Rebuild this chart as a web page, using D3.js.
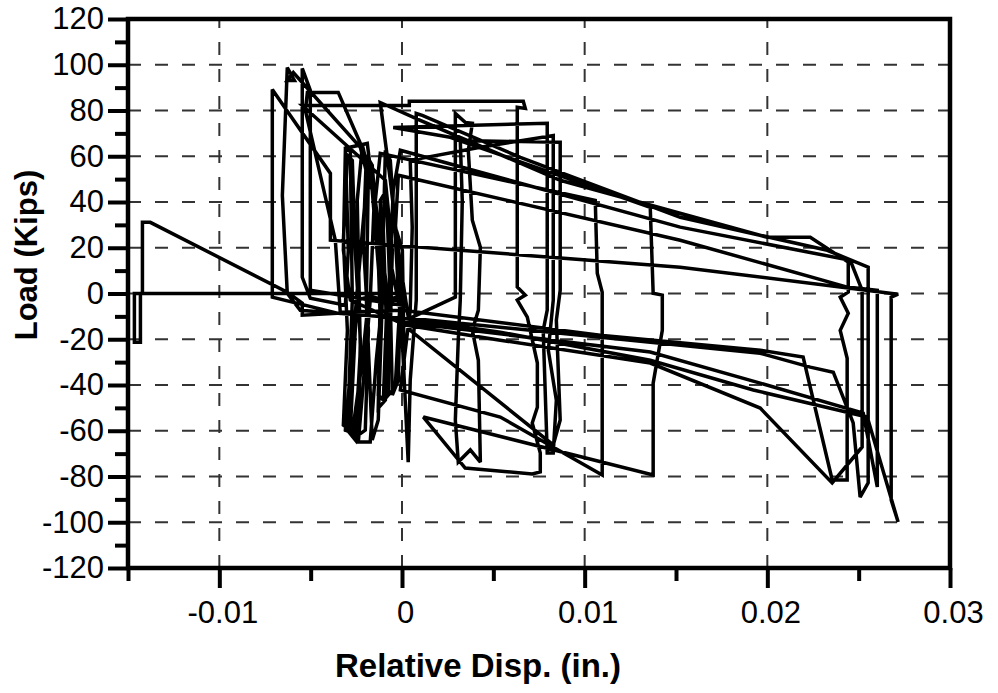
<!DOCTYPE html>
<html>
<head>
<meta charset="utf-8">
<script src="https://cdn.jsdelivr.net/npm/d3@7/dist/d3.min.js"></script>
<style>
  html, body { margin: 0; padding: 0; background: #fff; }
  svg { display: block; font-family: "Liberation Sans", Arial, sans-serif; }
</style>
</head>
<body>
<svg id="chart" width="998" height="693"></svg>
<script>
// Relative displacement (in.) of the recorded load path, in drawing order
const disp = [
  0.0000,-0.01465,-0.01465,-0.01432,-0.01432,-0.01421,-0.01421,-0.01378,-0.00628,-0.00546,
  -0.00546,-0.00354,-0.0071,-0.0071,-0.00392,-0.00392,0.00319,0.01523,0.02716,0.02678,
  0.02678,0.02716,0.02547,0.01923,0.01359,0.00538,0.00002,-0.00557,-0.00628,-0.00655,
  -0.00628,-0.00589,-0.00628,-0.00595,-0.00228,-0.0019,-0.00245,-0.0031,-0.00272,-0.00217,
  -0.00184,0.00002,-0.00502,-0.00502,-0.00546,-0.00546,-0.00502,-0.0031,-0.00294,-0.0031,
  -0.0019,-0.00152,-0.00174,-0.00239,-0.00174,-0.00141,-0.00108,-0.00009,-0.0002,-0.00064,
  -0.00119,0.001,0.00866,0.01999,0.02235,0.02443,0.02443,0.02399,0.02443,0.02399,
  0.02437,0.02437,0.02355,0.02196,0.01961,0.01085,0.00002,-0.00338,-0.00365,-0.00529,
  -0.00518,-0.00349,-0.00228,-0.00163,-0.00119,-0.0013,-0.00091,-0.00064,-0.00053,-0.00091,
  -0.00546,0.0004,0.0004,0.00664,0.00675,0.00631,0.00631,0.00675,0.00631,0.00686,
  0.00741,0.00741,0.00713,0.00757,0.00757,0.00713,0.00346,0.00117,0.01375,0.01375,
  0.01425,0.01425,0.01375,0.01359,0.00264,-0.00048,0.00795,0.00795,0.00773,0.00795,
  0.00828,0.00845,0.00801,0.00828,0.00828,0.00429,0.00045,0.00056,0.00045,-0.00009,
  0.00538,0.01096,0.01096,0.01069,0.01058,-0.00119,-0.00146,-0.00075,-0.00075,-0.00037,
  -0.0002,-0.00009,0.00034,0.00045,0.00078,0.00078,0.00111,0.00648,0.01523,0.02328,
  0.02552,0.02552,0.02508,0.0247,0.02361,0.02235,0.01961,0.00045,0.00292,0.00292,
  0.00346,0.00385,0.00363,0.00385,0.00429,0.00418,0.00385,0.00418,0.00429,0.00374,
  0.00308,0.00292,0.00308,0.00319,0.0033,0.00319,0.00866,0.00866,0.00845,0.00866,
  0.00828,0.00045,-0.00037,-0.0002,0.01523,0.02437,0.02602,0.02602,0.02525,0.01961,
  0.01359,0.00002,-0.00064,-0.00048,-0.00009,0.01523,0.02454,0.02519,0.02519,0.02355,
  0.01961,0.01359,0.00538,0.00018,-0.00283,-0.00321,-0.0031,-0.00283,-0.00272,-0.00299,
  -0.00256,-0.00228,-0.00245,-0.00217,-0.00184,-0.00195,-0.00163,-0.0013,-0.00108,-0.00119,
  -0.00086,-0.00064,-0.00053,-0.0002,-0.00009,-0.00031,0.00002,0.00013,0.00002,
  -0.0002,-0.00042,-0.00064,-0.00091,-0.00102,-0.00086,-0.00102,-0.0013,-0.00119,-0.00135,
  -0.00163,-0.00195,-0.00212,-0.00184,-0.00201,-0.00239,-0.00228,-0.00256,-0.00272,-0.00299,
  -0.00321,-0.00299,-0.00321,-0.00283,-0.00256,-0.00245,-0.00174,-0.00091,-0.00009
];

// Load (kips) at each recorded step
const load = [
  0, 0, -21.3, -21.3, 0, 0, 31.1, 31.1, 0.6, -4.2,
  -9.5, -8.6, -1.6, 89.2, 52.5, 23.3, 18.9, 11.5, -0.3, -1.6,
  -90.3, -99.9, -54.0, -42.2, -29.2, -16.9, -10.8, -7.3, 0.1, 42.9,
  98.8, 93.1, 93.1, 96.6, 63.9, 51.7, 1.4, -59.7, -61.0, -29.2,
  -2.9, -5.1, 1.4, 88.8, 98.4, 7.1, -2.1, -5.1, 18.9, 63.5,
  65.6, 40.7, -2.9, -64.9, -64.9, -29.2, -2.9, -2.9, 18.9, 49.5,
  83.5, 75.7, 49.5, 24.6, 24.6, 13.7, 0.6, -1.6, -8.6, -16.1,
  -28.3, -81.5, -81.5, -27.8, -24.8, -18.2, -7.3, -8.2, 23.3, 80.0,
  87.9, 87.9, 65.6, 45.1, 1.4, -50.1, -46.6, -16.1, 18.9, 49.5,
  82.2, 82.2, 84.0, 84.0, 80.9, 81.4, 2.8, -0.7, -2.9, -10.3,
  -30.4, -49.7, -56.6, -69.7, -78.0, -78.9, -76.3, -54.0, -79.3, -39.2,
  -16.1, -0.7, 0.1, 37.7, 68.3, 72.6, 74.4, -7.3, -16.1, -69.7,
  -69.7, -46.6, -24.8, -2.9, 69.1, 63.9, 58.2, 29.0, -7.3, -42.2,
  -54.0, -79.3, 0.6, 8.9, 40.7, 61.3, 40.7, -2.9, -44.4, -40.9,
  -16.1, -2.9, -73.7, -37.9, -2.9, 78.7, 77.9, 59.5, 33.3, 18.9,
  11.5, -82.8, -89.0, -56.6, -34.4, -32.2, -26.1, -10.8, -1.6, 78.7,
  74.8, 74.4, 62.6, 32.0, 20.2, -7.3, -16.1, -29.2, -73.7, -68.4,
  -73.7, -55.3, -20.4, -2.9, 40.7, 66.9, 66.1, 1.4, -11.7, -55.3,
  -66.2, -16.1, 27.6, 51.7, 23.3, 2.8, 1.4, -84.6, -52.3, -39.2,
  -25.6, -12.5, 14.5, 45.1, 62.6, 29.0, 14.5, 1.4, -67.1, -82.8,
  -50.1, -30.4, -20.4, -13.8, -2.9, 18.9, 62.6, 62.6, -2.9, -59.7,
  -64.0, -24.8, 40.7, 64.8, 53.8, -2.9, -64.0, -55.3, -2.9, 40.7,
  45.1, -2.9, -44.4, -37.9, -2.9, 27.6, 18.9, -33.5, -2.9,
  1.4, 32.0, 58.2, 62.6, 27.6, -11.7, -46.6, -44.4, -11.7, 27.6,
  56.0, 60.4, 23.3, -16.1, -59.7, -61.9, -20.4, 18.9, 58.2, 60.4,
  23.3, -16.1, -57.5, -59.7, -16.1, -2.9, -1.2, -2.9, -1.2
];

// Axis ticks and labels
const xTicks = [-0.01, 0, 0.01, 0.02, 0.03];
const xTickLabels = ["-0.01", "0", "0.01", "0.02", "0.03"];
const xMinorTicks = [-0.015, -0.005, 0.005, 0.015, 0.025];
const yTicks = [-120, -100, -80, -60, -40, -20, 0, 20, 40, 60, 80, 100, 120];
const yMinorTicks = [-110, -90, -70, -50, -30, -10, 10, 30, 50, 70, 90, 110];
const xGridValues = [-0.01, 0, 0.01, 0.02];
const yGridValues = [-100, -80, -60, -40, -20, 0, 20, 40, 60, 80, 100];

const xTitle = "Relative Disp. (in.)";
const yTitle = "Load (Kips)";

const svg = d3.select("#chart");
const plot = { left: 128, right: 950, top: 19, bottom: 568 };

const x = d3.scaleLinear().domain([-0.015, 0.03]).range([plot.left, plot.right]);
const y = d3.scaleLinear().domain([-120, 120]).range([plot.bottom, plot.top]);

// dashed grid
const grid = svg.append("g")
  .attr("stroke", "#333")
  .attr("stroke-width", 2)
  .attr("stroke-dasharray", "13,14");

grid.selectAll("line.gh").data(yGridValues).join("line")
  .attr("class", "gh")
  .attr("x1", plot.left).attr("x2", plot.right)
  .attr("y1", d => y(d)).attr("y2", d => y(d));

grid.selectAll("line.gv").data(xGridValues).join("line")
  .attr("class", "gv")
  .attr("x1", d => x(d)).attr("x2", d => x(d))
  .attr("y1", plot.bottom).attr("y2", plot.top);

// load–displacement path
const idx = d3.range(disp.length);
const line = d3.line()
  .x(i => x(disp[i]))
  .y(i => y(load[i]));

svg.append("path")
  .datum(idx)
  .attr("d", line)
  .attr("fill", "none")
  .attr("stroke", "#000")
  .attr("stroke-width", 3.5)
  .attr("stroke-linejoin", "miter")
  .attr("stroke-miterlimit", 3);

// axes
function styleAxis(g) {
  g.select(".domain").remove();
  g.selectAll(".tick line").attr("stroke", "#000").attr("stroke-width", 4);
  g.selectAll(".tick text")
    .attr("fill", "#000")
    .style("font-family", "'Liberation Sans', Arial, sans-serif")
    .style("font-size", "31px");
}

svg.append("g")
  .attr("transform", `translate(0,${plot.bottom})`)
  .call(d3.axisBottom(x).tickValues(xMinorTicks).tickSize(13).tickFormat(""))
  .call(styleAxis);

svg.append("g")
  .attr("transform", `translate(0,${plot.bottom})`)
  .call(d3.axisBottom(x).tickValues(xTicks).tickSize(20).tickPadding(13)
    .tickFormat((d, i) => xTickLabels[i]))
  .call(styleAxis)
  .call(g => g.selectAll(".tick text").attr("dx", 3));

svg.append("g")
  .attr("transform", `translate(${plot.left},0)`)
  .call(d3.axisLeft(y).tickValues(yMinorTicks).tickSize(13).tickFormat(""))
  .call(styleAxis);

svg.append("g")
  .attr("transform", `translate(${plot.left},0)`)
  .call(d3.axisLeft(y).tickValues(yTicks).tickSize(20).tickPadding(4)
    .tickFormat(d => String(d)))
  .call(styleAxis);

// frame
svg.append("rect")
  .attr("x", plot.left).attr("y", plot.top)
  .attr("width", plot.right - plot.left)
  .attr("height", plot.bottom - plot.top)
  .attr("fill", "none")
  .attr("stroke", "#000")
  .attr("stroke-width", 4.5);

// axis titles
svg.append("text")
  .attr("x", 478).attr("y", 677)
  .attr("text-anchor", "middle")
  .style("font-size", "33px")
  .style("font-weight", "bold")
  .text(xTitle);

svg.append("text")
  .attr("transform", "translate(26,255) rotate(-90)")
  .attr("dy", "0.35em")
  .attr("text-anchor", "middle")
  .style("font-size", "31px")
  .style("font-weight", "bold")
  .text(yTitle);
</script>
</body>
</html>
